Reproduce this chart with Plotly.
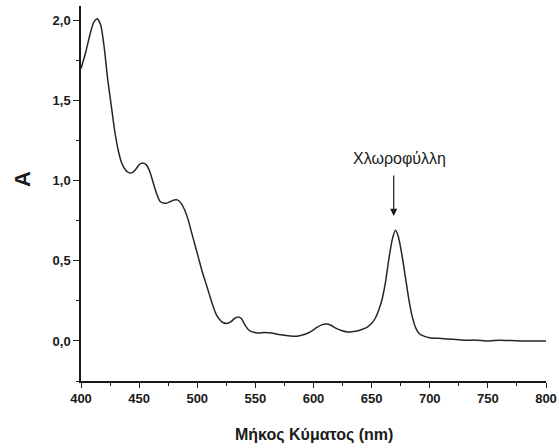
import plotly.graph_objects as go

wavelength = [400, 404, 408, 411, 414, 417, 420, 423, 426, 429, 432, 435, 438, 441, 444, 447, 450, 453, 456, 459,
              462, 465, 468, 471, 474, 477, 480, 483, 486, 489, 492, 495, 498, 501, 504, 507, 510, 513, 516, 519,
              522, 526, 529, 532, 535, 538, 541, 544, 548, 552, 558, 564, 570, 578, 586, 592, 598, 603, 607, 611,
              615, 619, 624, 630, 636, 641, 646, 650, 653, 656, 659, 662, 665, 668, 670.5, 673, 676, 679, 682, 685,
              688, 691, 695, 700, 710, 720, 730, 740, 750, 760, 770, 780, 790, 800]
absorbance = [1.70, 1.80, 1.92, 1.99, 2.01, 1.97, 1.83, 1.63, 1.47, 1.31, 1.19, 1.11, 1.07, 1.05, 1.05, 1.07, 1.10, 1.11, 1.10, 1.06,
              0.99, 0.92, 0.87, 0.86, 0.86, 0.87, 0.88, 0.88, 0.86, 0.82, 0.76, 0.68, 0.60, 0.52, 0.44, 0.37, 0.30, 0.23, 0.17, 0.135,
              0.115, 0.11, 0.12, 0.14, 0.15, 0.14, 0.10, 0.07, 0.055, 0.05, 0.052, 0.05, 0.04, 0.033, 0.03, 0.04, 0.06, 0.085, 0.10, 0.105,
              0.098, 0.08, 0.065, 0.055, 0.06, 0.07, 0.085, 0.11, 0.14, 0.19, 0.26, 0.37, 0.52, 0.64, 0.69, 0.65, 0.54, 0.40, 0.26, 0.15,
              0.08, 0.045, 0.03, 0.02, 0.015, 0.01, 0.005, 0.005, 0.0, 0.005, 0.003, 0.0, 0.0, 0.0]

x_ticks = [400, 450, 500, 550, 600, 650, 700, 750, 800]
y_ticks = [0.0, 0.5, 1.0, 1.5, 2.0]

x_title = "Μήκος Κύματος (nm)"
y_title = "A"
peak_label = "Χλωροφύλλη"
peak_x = 669
peak_y = 0.78

ink = "#1a1a1a"
tick_font = dict(family="Liberation Sans", size=13, color=ink, weight="bold")

fig = go.Figure()
fig.add_trace(go.Scatter(x=wavelength, y=absorbance, mode="lines",
                         line=dict(color="#262626", width=1.5, shape="spline", smoothing=0.6),
                         showlegend=False, hoverinfo="x+y"))

fig.update_xaxes(range=[400, 800], tickvals=x_ticks, ticks="outside", ticklen=5, tickwidth=1.2,
                 tickcolor=ink, showline=True, linecolor=ink, linewidth=1.5,
                 showgrid=False, zeroline=False, tickfont=tick_font, automargin=False,
                 minor=dict(dtick=25, ticks="outside", ticklen=3, tickcolor=ink, tickwidth=1))
fig.update_yaxes(range=[-0.25, 2.09], tickvals=y_ticks, tickformat=".1f", ticks="outside", ticklen=6, tickwidth=1.2,
                 tickcolor=ink, showline=True, linecolor=ink, linewidth=1.5,
                 showgrid=False, zeroline=False, tickfont=tick_font, automargin=False,
                 minor=dict(dtick=0.25, ticks="outside", ticklen=3, tickcolor=ink, tickwidth=1))

fig.update_layout(
    width=559, height=448,
    margin=dict(l=81, r=13, t=6, b=67),
    paper_bgcolor="white", plot_bgcolor="white",
    separators=", ",
    font=dict(family="Liberation Sans", color=ink),
    annotations=[
        dict(x=peak_x, y=peak_y, xref="x", yref="y", text="", showarrow=True,
             ax=0, ay=-42, arrowhead=2, arrowsize=1.2, arrowwidth=1.2, arrowcolor=ink),
        dict(x=674, y=1.07, xref="x", yref="y", text=peak_label, showarrow=False,
             yanchor="bottom", font=dict(family="Liberation Sans", size=16, color=ink)),
        dict(x=0.5, y=-0.144, xref="paper", yref="paper", text="<b>" + x_title + "</b>", showarrow=False,
             xanchor="center", yanchor="middle", font=dict(family="Liberation Sans", size=16, color=ink)),
        dict(x=-0.1247, y=0.539, xref="paper", yref="paper", text="<b>" + y_title + "</b>", showarrow=False,
             textangle=-90, xanchor="center", yanchor="middle", font=dict(family="Liberation Sans", size=22, color=ink)),
    ],
)

fig.write_html("out.html", config={"displayModeBar": False},
               post_script="document.body.style.margin='0';document.body.style.padding='0';")
